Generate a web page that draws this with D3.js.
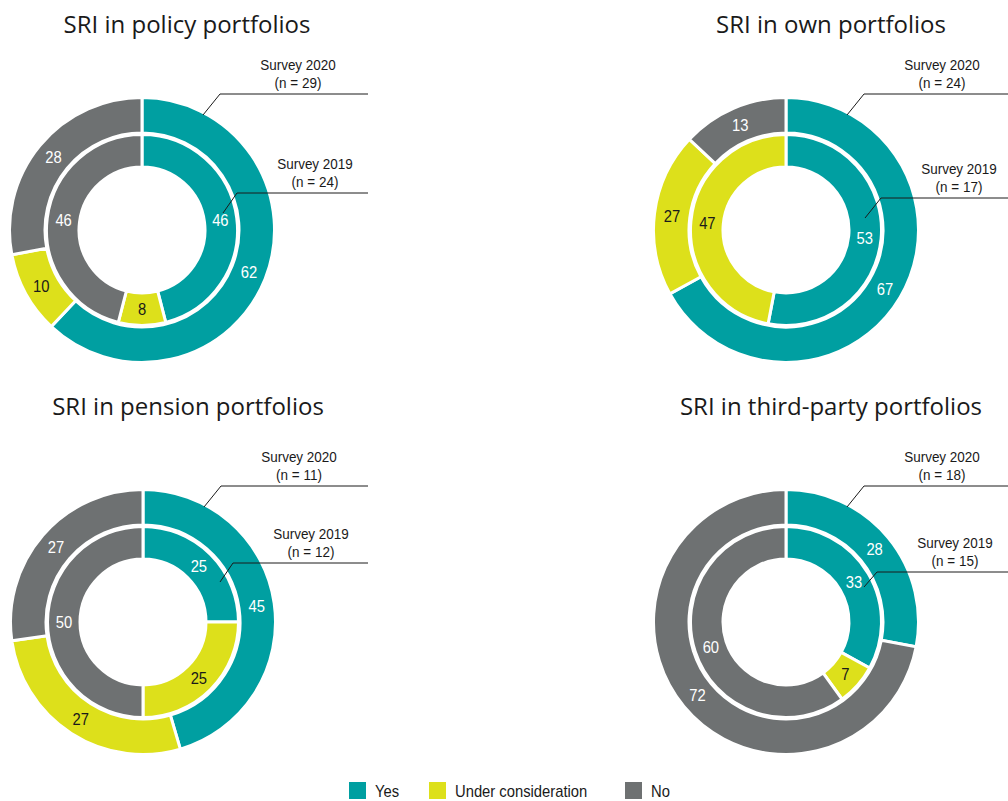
<!DOCTYPE html>
<html>
<head>
<meta charset="utf-8">
<script src="https://cdn.jsdelivr.net/npm/d3@7"></script>
<style>
  body { margin: 0; background: #fff; }
  .title { font-family: "Open Sans", sans-serif; font-size: 24px; fill: #1a1a1a; }
  .narrow { font-family: "Liberation Sans", Arial, sans-serif; }
</style>
</head>
<body>
<svg id="chart" width="1008" height="801"></svg>
<script>
const categories = ["Yes", "Under consideration", "No"]
const colors = ["#009fa1", "#dde01b", "#6e7172"]
const titles = ["SRI in policy portfolios", "SRI in own portfolios", "SRI in pension portfolios", "SRI in third-party portfolios"]

// shares per category (Yes, Under consideration, No), in %
const policy2020 = [62, 10, 28]
const policy2019 = [46, 8, 46]
const own2020 = [67, 20, 13]
const own2020Printed = [67, 27, 13] // label printed in the source, arc drawn as 20
const own2019 = [53, 47, 0]
const pension2020 = [45, 27, 27]
const pension2019 = [25, 25, 50]
const third2020 = [28, 0, 72]
const third2019 = [33, 7, 60]

const n2020 = [29, 24, 11, 18]
const n2019 = [24, 17, 12, 15]

const squeeze = 0.87 // condensed look for the small labels

const svg = d3.select("#chart")

const panels = [
    {outer: policy2020, inner: policy2019, cx: 142, cy: 230, titleY: 33, right: 368,
        lead19: {start: [81, -17], elbow: [95, -37]}},
    {outer: own2020, outerLabels: own2020Printed, inner: own2019, cx: 786, cy: 230, titleY: 33, right: 1008,
        lead19: {start: [79, -12], elbow: [95, -32]}},
    {outer: pension2020, inner: pension2019, cx: 143, cy: 622, titleY: 415, right: 368,
        lead19: {start: [77, -40], elbow: [90, -59]}},
    {outer: third2020, inner: third2019, cx: 786, cy: 622, titleY: 415, right: 1008,
        lead19: {start: [78, -35], elbow: [91, -50]}}
]

const pie = d3.pie().sort(null).value(d => d)
const innerArc = d3.arc().innerRadius(63).outerRadius(95.5)
const outerArc = d3.arc().innerRadius(97).outerRadius(132.5)
const innerLabelArc = d3.arc().innerRadius(79).outerRadius(79)
const outerLabelArc = d3.arc().innerRadius(115).outerRadius(115)

const drawRing = (g, values, labels, arc, labelArc) => {
    const slices = pie(values).map((d, i) => ({...d, cat: i, label: labels[i]}))
        .filter(d => d.value > 0)
    g.selectAll(null).data(slices).join("path")
        .attr("d", arc)
        .attr("fill", d => colors[d.cat])
        .attr("stroke", "#fff")
        .attr("stroke-width", 3)
    g.selectAll(null).data(slices).join("text")
        .attr("class", "narrow")
        .attr("transform", d => `translate(${labelArc.centroid(d)}) scale(${squeeze},1)`)
        .attr("text-anchor", "middle")
        .attr("dy", "0.36em")
        .attr("font-size", 17)
        .attr("fill", d => d.cat === 1 ? "#1a1a1a" : "#fff")
        .text(d => d.label)
}

const leader = (g, p, start, elbow, lines) => {
    g.append("path")
        .attr("d", `M${start[0]},${start[1]}L${elbow[0]},${elbow[1]}H${p.right - p.cx}`)
        .attr("fill", "none")
        .attr("stroke", "#1a1a1a")
        .attr("stroke-width", 1)
    lines.forEach((s, i) => {
        g.append("text")
            .attr("class", "narrow")
            .attr("transform", `translate(${elbow[0] + 78},${elbow[1] - 24 + i * 18}) scale(${squeeze},1)`)
            .attr("font-size", 15.5)
            .attr("fill", "#1a1a1a")
            .attr("text-anchor", "middle")
            .text(s)
    })
}

panels.forEach((p, k) => {
    svg.append("text")
        .attr("class", "title")
        .attr("x", p.cx + 45)
        .attr("y", p.titleY)
        .attr("text-anchor", "middle")
        .text(titles[k])

    const g = svg.append("g").attr("transform", `translate(${p.cx},${p.cy})`)
    drawRing(g, p.outer, p.outerLabels || p.outer, outerArc, outerLabelArc)
    drawRing(g, p.inner, p.inner, innerArc, innerLabelArc)

    leader(g, p, [61, -115], [78, -136], ["Survey 2020", `(n = ${n2020[k]})`])
    leader(g, p, p.lead19.start, p.lead19.elbow, ["Survey 2019", `(n = ${n2019[k]})`])
})

// legend
const legendX = [349, 429, 625]
const legend = svg.append("g")
    .selectAll(null).data(categories).join("g")
    .attr("transform", (d, i) => `translate(${legendX[i]},782)`)
legend.append("rect")
    .attr("width", 17).attr("height", 17)
    .attr("fill", (d, i) => colors[i])
legend.append("text")
    .attr("class", "narrow")
    .attr("transform", `translate(26,15) scale(${squeeze},1)`)
    .attr("font-size", 17)
    .attr("fill", "#1a1a1a")
    .text(d => d)
</script>
</body>
</html>
